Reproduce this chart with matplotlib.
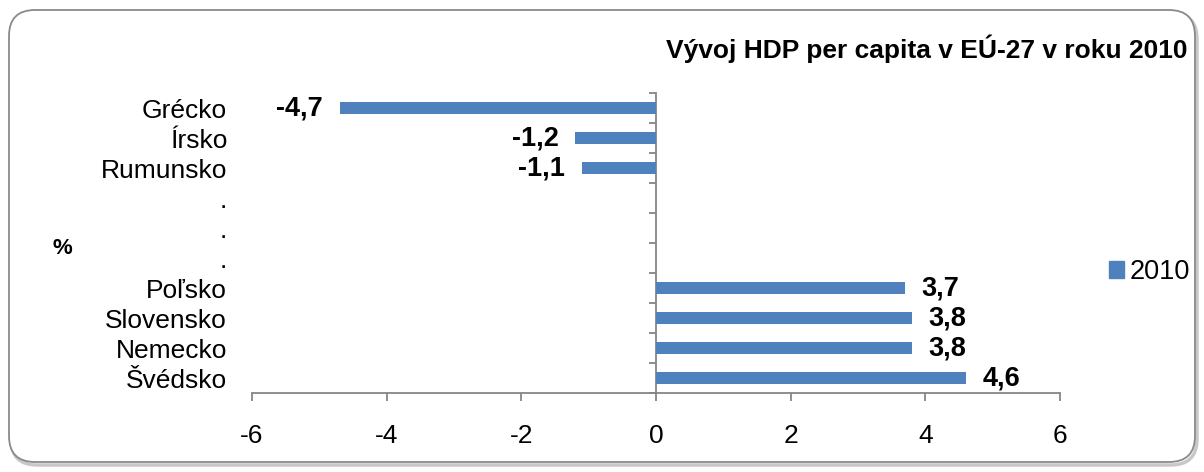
import matplotlib
matplotlib.use("Agg")
import matplotlib.pyplot as plt
import numpy as np
from matplotlib.patches import FancyBboxPatch, Patch
from matplotlib.transforms import IdentityTransform
from matplotlib.ticker import FixedLocator

plt.rcParams['font.family'] = ['Liberation Sans', 'DejaVu Sans']

categories = ["Grécko", "Írsko", "Rumunsko", ".", ".", ".", "Poľsko", "Slovensko", "Nemecko", "Švédsko"]
values = [-4.7, -1.2, -1.1, np.nan, np.nan, np.nan, 3.7, 3.8, 3.8, 4.6]
value_labels = ["-4,7", "-1,2", "-1,1", "", "", "", "3,7", "3,8", "3,8", "4,6"]
series_name = "2010"
title = "Vývoj HDP per capita v EÚ-27 v roku 2010"
xticks = [-6, -4, -2, 0, 2, 4, 6]

bar_color = "#4F81BD"
axis_color = "#868686"

fig = plt.figure(figsize=(12.04, 4.72), dpi=100)

# rounded frame with a light shadow, in pixel coords
shadow = FancyBboxPatch((11, 7), 1186, 452, boxstyle="round,pad=0,rounding_size=26",
                        transform=IdentityTransform(), facecolor="none",
                        edgecolor="#c8c8c8", lw=2.5, zorder=-2)
frame = FancyBboxPatch((9, 10), 1186, 452, boxstyle="round,pad=0,rounding_size=26",
                       transform=IdentityTransform(), facecolor="white",
                       edgecolor="#8a8a8a", lw=1.3, zorder=-1)
fig.patches.append(shadow)
fig.patches.append(frame)

ax = fig.add_axes([252 / 1204, 1 - 393 / 472, 808 / 1204, 300 / 472])
ax.patch.set_alpha(0)
ax.set_zorder(2)

pos = np.arange(len(categories))
ax.barh(pos, values, height=0.4, color=bar_color, zorder=3)

for p, v, lab in zip(pos, values, value_labels):
    if np.isnan(v):
        continue
    if v < 0:
        ax.annotate(lab, (v, p), xytext=(-12, 0), textcoords="offset points",
                    ha="right", va="center", fontsize=19.5, fontweight="bold")
    else:
        ax.annotate(lab, (v, p), xytext=(12, 0), textcoords="offset points",
                    ha="left", va="center", fontsize=19.5, fontweight="bold")

ax.set_xlim(-6, 6)
ax.set_ylim(len(categories) - 0.5, -0.5)
ax.set_xticks(xticks)
ax.set_xticklabels([str(t) for t in xticks])

ax.set_yticks(pos)
ax.set_yticklabels(categories)
ax.yaxis.set_minor_locator(FixedLocator(np.arange(len(categories) + 1) - 0.5))
ax.yaxis.set_ticks_position("both")

# left side: labels only; right spine moved to zero carries the tick marks
ax.tick_params(axis="y", which="major", length=0, pad=18, labelsize=19, labelright=False)
ax.tick_params(axis="y", which="minor", left=False, right=True, direction="in",
               length=5, width=1.3, color=axis_color)
ax.tick_params(axis="x", which="major", length=6, width=1.3, color=axis_color,
               pad=16, labelsize=19)

for s in ["top", "left"]:
    ax.spines[s].set_visible(False)
ax.spines["right"].set_position(("data", 0))
ax.spines["right"].set_color(axis_color)
ax.spines["right"].set_linewidth(1.3)
ax.spines["bottom"].set_color(axis_color)
ax.spines["bottom"].set_linewidth(1.3)

fig.text(1188 / 1204, 1 - 49 / 472, title, ha="right", va="center",
         fontsize=19, fontweight="bold")
fig.text(62 / 1204, 1 - 248 / 472, "%", ha="center", va="center",
         fontsize=16, fontweight="bold")

fig.legend(handles=[Patch(color=bar_color, label=series_name)],
           loc="center left", bbox_to_anchor=(1109 / 1204, 1 - 272 / 472),
           frameon=False, fontsize=19.5, handlelength=0.55, handleheight=0.55,
           handletextpad=0.2, borderpad=0, borderaxespad=0)

fig.savefig("out.png", dpi=100)
